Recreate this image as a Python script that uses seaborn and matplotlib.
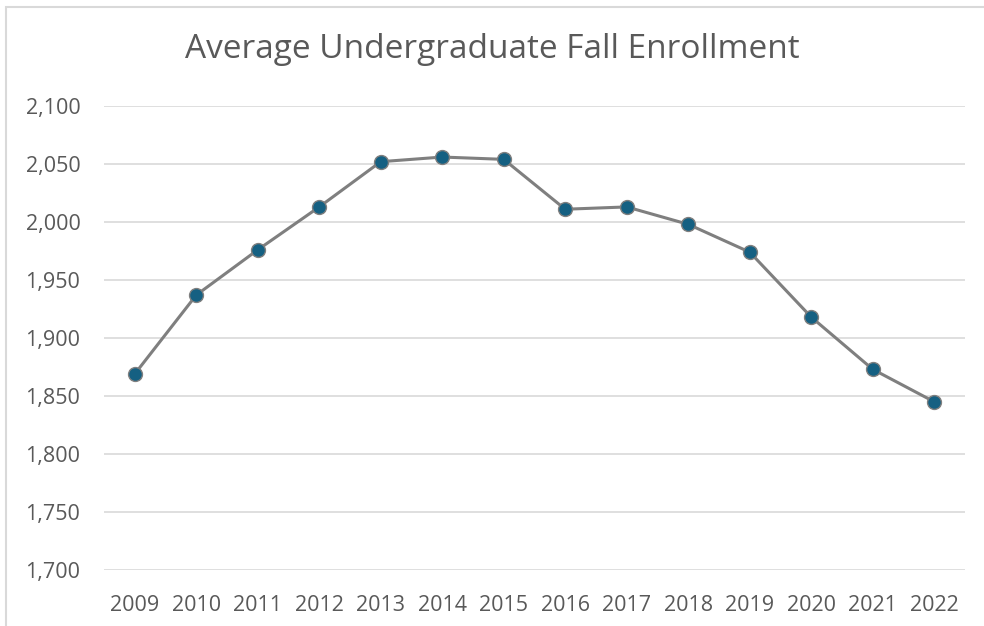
import numpy as np
import pandas as pd
import matplotlib
matplotlib.use('Agg')
import matplotlib.pyplot as plt
import seaborn as sns
from matplotlib.patches import Rectangle
from matplotlib.ticker import FuncFormatter

# data
years = ['2009', '2010', '2011', '2012', '2013', '2014', '2015',
         '2016', '2017', '2018', '2019', '2020', '2021', '2022']
enrollment = [1869, 1937, 1976, 2013, 2052, 2056, 2054,
              2011, 2013, 1998, 1974, 1918, 1873, 1845]
y_ticks = [1700, 1750, 1800, 1850, 1900, 1950, 2000, 2050, 2100]

df = pd.DataFrame({'Year': years, 'Enrollment': enrollment})

sns.set_style('white')
plt.rcParams['font.family'] = ['Open Sans', 'DejaVu Sans']

fig = plt.figure(figsize=(9.84, 6.26), dpi=100)
ax = fig.add_axes([104/984, 1-570/626, (965-104)/984, (570-106)/626])

# outer chart frame (cropped on right and bottom)
fig.patches.append(Rectangle((6/984, -0.1), 1.2, 1-7/626+0.1, transform=fig.transFigure,
                             fill=False, edgecolor='#d9d9d9', linewidth=1.5))

sns.lineplot(x='Year', y='Enrollment', data=df, ax=ax, color='#7f7f7f', linewidth=2.2,
             marker='o', markersize=10, markerfacecolor='#156082',
             markeredgecolor='#7f7f7f', markeredgewidth=1.0, zorder=3)

ax.set_xlim(-0.5, 13.5)
ax.set_ylim(1700, 2100)
ax.set_yticks(y_ticks)
ax.yaxis.set_major_formatter(FuncFormatter(lambda v, p: '{:,.0f}'.format(v)))
ax.grid(axis='y', color='#d9d9d9', linewidth=1.2)
ax.set_axisbelow(True)
sns.despine(ax=ax, left=True, bottom=True, top=True, right=True)
ax.tick_params(axis='both', length=0, labelsize=15.5, labelcolor='#595959')
ax.tick_params(axis='y', pad=17)
ax.tick_params(axis='x', pad=18)
ax.set_xlabel('')
ax.set_ylabel('')

fig.text(0.5, 1-50/626, 'Average Undergraduate Fall Enrollment', ha='center', va='center',
         fontsize=24, color='#595959')

fig.savefig('out.png', dpi=100)
